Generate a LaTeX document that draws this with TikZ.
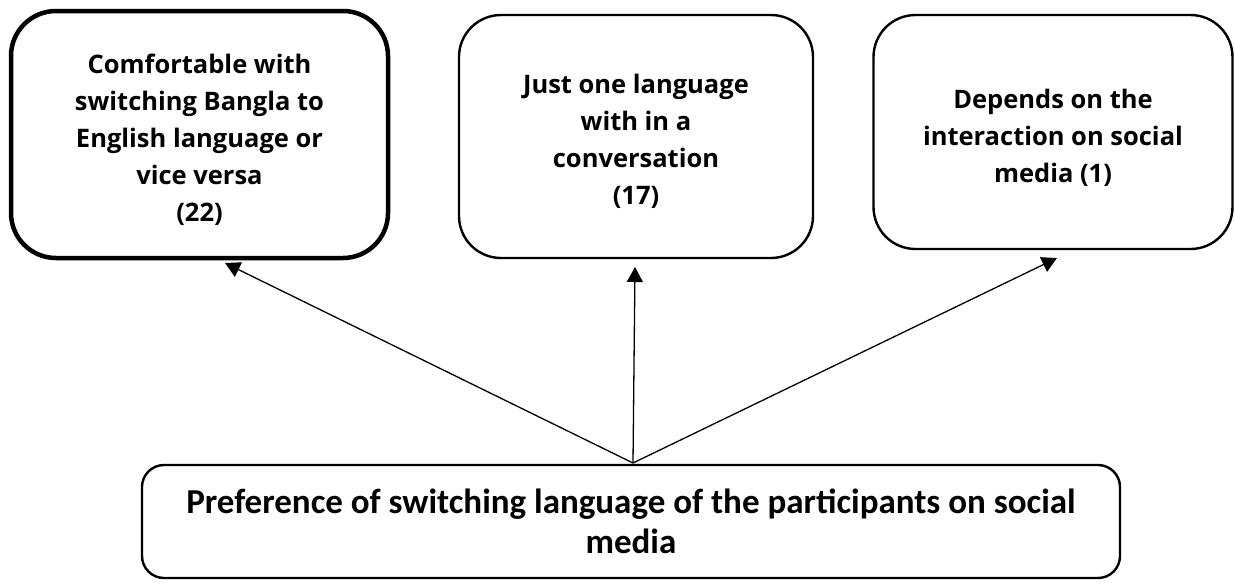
\documentclass[tikz,border=0pt]{standalone}
\usepackage{fontspec}
\setmainfont{Open Sans}
\newfontfamily\calib{Carlito}
\usetikzlibrary{arrows.meta}
\newcommand{\boxtext}[2]{\raisebox{-#1}[\height][\depth]{\begin{tabular}{@{}c@{}}#2\end{tabular}}}
\tikzset{
  topbox/.style={draw=black, rounded corners=42pt, line width=2.4pt, align=center,
    font=\bfseries\fontsize{25.5}{37}\selectfont, inner sep=0pt},
  botbox/.style={draw=black, rounded corners=22pt, line width=2.4pt, align=center,
    font=\calib\bfseries\fontsize{35}{40}\selectfont, inner sep=0pt},
  conn/.style={line width=1.3pt, -{Triangle[length=15pt,width=16pt]}}
}
\begin{document}
\begin{tikzpicture}[x=1pt,y=-1pt]
\useasboundingbox (0,0) rectangle (1235,584);
\node[topbox, line width=4.5pt, rounded corners=45pt, minimum width=377pt, minimum height=247pt] (a) at (199.5,134.5)
  {\boxtext{6pt}{Comfortable with\\switching Bangla to\\English language or\\vice versa\\(22)}};
\node[topbox, minimum width=354pt, minimum height=243pt] (b) at (636,136.5)
  {\boxtext{5pt}{Just one language\\with in a\\conversation\\(17)}};
\node[topbox, minimum width=359pt, minimum height=234pt] (c) at (1053,132)
  {\boxtext{6pt}{Depends on the\\interaction on social\\media (1)}};
\node[botbox, minimum width=978pt, minimum height=113pt] (p) at (631,521.5)
  {\boxtext{4pt}{Preference of switching language of the participants on social\\media}};
\coordinate (o) at (633,463);
\coordinate (ta) at (225,263);
\coordinate (tb) at (635,267);
\coordinate (tc) at (1057,258);
\draw[conn] (o) -- (ta);
\draw[conn] (o) -- (tb);
\draw[conn] (o) -- (tc);
\end{tikzpicture}
\end{document}
